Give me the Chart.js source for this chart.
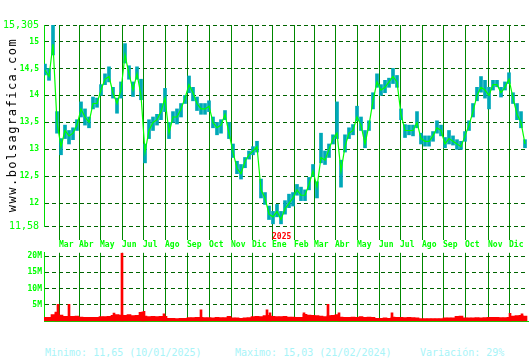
<!DOCTYPE html>
<html>
<head>
<meta charset="utf-8">
<script src="https://cdn.jsdelivr.net/npm/chart.js@4.4.1/dist/chart.umd.min.js"></script>
<style>
  body { margin: 0; background: #fff; }
  #wrap { position: relative; width: 530px; height: 360px; overflow: hidden; font-family: "DejaVu Sans Mono", monospace; }
  canvas { position: absolute; left: 0; }
  #priceChart { top: 0; }
  #volChart { top: 246px; }
  .site { position: absolute; left: -78px; top: 119px; width: 180px; height: 12px; line-height: 12px; font-size: 12px;
          letter-spacing: 1.5px; text-align: center; color: #000; transform: rotate(-90deg); white-space: nowrap; }
  .info { position: absolute; top: 348px; font-size: 10px; line-height: 10px; color: #a8f4f8; white-space: nowrap; }
</style>
</head>
<body>
<div id="wrap">
  <canvas id="priceChart" width="530" height="250"></canvas>
  <canvas id="volChart" width="530" height="82"></canvas>
  <div class="site">www.bolsagrafica.com</div>
  <span class="info" style="left:45px">Minimo: 11,65 (10/01/2025)</span>
  <span class="info" style="left:235px">Maximo: 15,03 (21/02/2024)</span>
  <span class="info" style="left:420px">Variación: 29%</span>
</div>
<script>
// ejes
const priceTicks = [11.58, 12, 12.5, 13, 13.5, 14, 14.5, 15, 15.305];
const volumeTicks = [5e6, 10e6, 15e6, 20e6];
const monthDays = [15, 35, 56, 78, 99, 121, 143, 165, 187, 208, 228, 250, 270, 291, 313, 335, 356, 378, 399, 421, 444, 465];
const monthLabels = ['Mar', 'Abr', 'May', 'Jun', 'Jul', 'Ago', 'Sep', 'Oct', 'Nov', 'Dic',
                     'Ene', 'Feb', 'Mar', 'Abr', 'May', 'Jun', 'Jul', 'Ago', 'Sep', 'Oct', 'Nov', 'Dic'];
const yearDays = [228];
const yearLabels = ['2025'];

// sesiones (una muestra cada 4 sesiones)
const firstDay = 1;
const dayStep = 4;

const closes = [
  14.47, 14.35, 14.95, 13.5, 13.05, 13.35, 13.25, 13.3, 13.45, 13.75,
  13.6, 13.5, 13.85, 13.85, 14.1, 14.3, 14.35, 14.05, 13.85, 14.1,
  14.75, 14.4, 14.1, 14.4, 14.0, 12.95, 13.35, 13.5, 13.55, 13.7,
  13.95, 13.3, 13.6, 13.6, 13.75, 13.95, 14.2, 14.05, 13.85, 13.75,
  13.75, 13.8, 13.5, 13.4, 13.45, 13.65, 13.3, 12.95, 12.65, 12.55,
  12.78, 12.9, 12.97, 13.05, 12.25, 12.1, 11.8, 11.75, 11.85, 11.7,
  11.9, 12.0, 12.1, 12.25, 12.15, 12.15, 12.35, 12.6, 12.3, 12.85,
  12.8, 13.0, 13.2, 13.3, 12.6, 13.05, 13.3, 13.35, 13.6, 13.45,
  13.1, 13.45, 13.9, 14.25, 14.1, 14.15, 14.25, 14.35, 14.25, 13.65,
  13.35, 13.35, 13.35, 13.5, 13.2, 13.15, 13.15, 13.25, 13.4, 13.35,
  13.1, 13.2, 13.15, 13.1, 13.05, 13.25, 13.45, 13.7, 14.0, 14.15,
  14.1, 14.0, 14.2, 14.2, 14.05, 14.15, 14.3, 13.95, 13.65, 13.5,
  13.1
];
const highs = [
  14.58, 14.5, 15.3, 13.7, 13.2, 13.45, 13.35, 13.4, 13.55, 13.88,
  13.75, 13.6, 13.97, 13.95, 14.2, 14.4, 14.53, 14.15, 13.95, 14.25,
  14.96, 14.55, 14.25, 14.53, 14.3, 13.1, 13.55, 13.6, 13.65, 13.85,
  14.13, 13.5, 13.7, 13.75, 13.85, 14.0, 14.36, 14.15, 13.97, 13.85,
  13.85, 13.9, 13.6, 13.5, 13.55, 13.72, 13.5, 13.1, 12.78, 12.72,
  12.85, 12.97, 13.05, 13.15, 12.45, 12.2, 11.95, 11.85, 11.98, 11.85,
  12.05, 12.17, 12.2, 12.35, 12.3, 12.25, 12.48, 12.72, 12.4, 13.3,
  12.97, 13.1, 13.27, 13.88, 12.8, 13.27, 13.4, 13.46, 13.8, 13.6,
  13.35, 13.53, 14.05, 14.4, 14.2, 14.28, 14.32, 14.5, 14.37, 13.75,
  13.46, 13.45, 13.45, 13.7, 13.3, 13.25, 13.25, 13.33, 13.53, 13.45,
  13.22, 13.35, 13.25, 13.18, 13.15, 13.33, 13.53, 13.85, 14.15, 14.35,
  14.28, 14.15, 14.28, 14.28, 14.15, 14.25, 14.42, 14.05, 13.85, 13.7,
  13.18
];
const lows = [
  14.38, 14.28, 14.75, 13.3, 12.9, 13.2, 13.1, 13.18, 13.35, 13.6,
  13.45, 13.4, 13.75, 13.78, 14.0, 14.2, 14.25, 13.95, 13.67, 13.95,
  14.6, 14.3, 13.98, 14.3, 13.92, 12.75, 13.2, 13.35, 13.45, 13.55,
  13.7, 13.2, 13.5, 13.47, 13.6, 13.85, 14.05, 13.9, 13.72, 13.65,
  13.65, 13.7, 13.4, 13.27, 13.3, 13.55, 13.2, 12.85, 12.55, 12.45,
  12.66, 12.82, 12.9, 12.95, 12.1, 11.98, 11.7, 11.62, 11.75, 11.62,
  11.8, 11.92, 11.95, 12.15, 12.05, 12.05, 12.25, 12.5, 12.1, 12.75,
  12.72, 12.85, 13.1, 13.2, 12.3, 12.95, 13.2, 13.27, 13.53, 13.35,
  13.03, 13.35, 13.75, 14.15, 14.0, 14.05, 14.15, 14.22, 14.15, 13.55,
  13.22, 13.27, 13.25, 13.4, 13.1, 13.06, 13.06, 13.15, 13.3, 13.25,
  13.03, 13.1, 13.08, 13.0, 13.0, 13.15, 13.35, 13.6, 13.9, 14.06,
  13.95, 13.75, 14.1, 14.16, 13.97, 14.1, 14.22, 13.85, 13.55, 13.4,
  13.03
];
// volumen en millones
const volumes = [
  1.2, 1.2, 2.0, 2.6, 1.9, 1.5, 1.5, 1.5, 1.6, 1.3,
  1.2, 1.2, 1.2, 1.2, 1.4, 1.4, 1.5, 1.8, 2.0, 1.9,
  1.8, 2.0, 1.7, 1.8, 2.7, 1.6, 1.4, 1.5, 1.4, 1.5,
  1.5, 0.9, 0.9, 0.8, 0.9, 0.9, 1.1, 1.1, 1.2, 1.2,
  1.1, 1.1, 1.0, 1.2, 1.1, 1.1, 1.5, 1.0, 1.0, 0.9,
  1.0, 1.1, 1.4, 1.5, 1.4, 1.7, 1.8, 1.5, 1.4, 1.4,
  1.5, 1.3, 1.3, 1.2, 1.2, 2.1, 1.9, 1.8, 1.7, 1.6,
  1.4, 1.7, 1.8, 2.0, 1.3, 1.2, 1.2, 1.3, 1.2, 1.4,
  1.2, 1.3, 1.2, 0.9, 0.9, 1.0, 0.9, 1.3, 1.2, 1.2,
  1.1, 1.2, 1.1, 1.0, 0.8, 0.8, 0.8, 0.8, 0.8, 0.8,
  1.0, 1.0, 1.0, 1.5, 1.6, 1.0, 1.0, 1.0, 1.1, 1.0,
  1.1, 1.2, 1.2, 1.2, 1.1, 1.1, 1.2, 1.6, 1.7, 1.8,
  1.6
];
const spikeDays = [12, 14, 25, 70, 78, 98, 100, 120, 157, 223, 226, 260, 284, 295, 348, 466, 478];
const spikeVolumes = [2.8, 5.2, 5.2, 2.5, 21, 2.8, 3.0, 2.3, 3.5, 3.5, 2.6, 2.6, 5.2, 2.6, 2.6, 2.4, 2.3];

const xMin = 0;
const xMax = 484;
const days = closes.map((_, i) => firstDay + i * dayStep);

Chart.defaults.font.family = '"DejaVu Sans Mono", monospace';

const textGreen = '#00ff00';
const axisGreen = '#00dd00';
const monthGreen = '#008800';
const dashGreen = '#006400';

// etiqueta del año sobre el primer mes, usando la escala x
const yearLabelPlugin = {
    id: 'yearLabel',
    afterDraw(chart) {
        const ctx = chart.ctx;
        const xs = chart.scales.x;
        ctx.save();
        ctx.font = 'bold 8px "DejaVu Sans Mono", monospace';
        ctx.fillStyle = '#ff0000';
        ctx.textAlign = 'left';
        ctx.textBaseline = 'middle';
        yearDays.forEach((d, i) => {
            ctx.fillText(yearLabels[i], xs.getPixelForValue(d), xs.top + 11);
        });
        ctx.restore();
    }
};

function monthAxis(showLabels) {
    return {
        type: 'linear',
        position: 'bottom',
        min: xMin,
        max: xMax,
        offset: false,
        afterBuildTicks: (scale) => { scale.ticks = monthDays.map(v => ({ value: v })); },
        afterFit: (scale) => { scale.height = showLabels ? 24 : 0; },
        grid: { color: monthGreen, lineWidth: 1, offset: false, drawTicks: showLabels, tickLength: 14 },
        border: { display: !showLabels, color: axisGreen, width: 1 },
        ticks: {
            display: showLabels,
            autoSkip: false,
            maxRotation: 0,
            align: 'start',
            padding: 0,
            color: textGreen,
            font: { size: 8, weight: 'bold' },
            callback: (v, i) => monthLabels[i]
        }
    };
}

// grafico de cotizacion
new Chart(document.getElementById('priceChart').getContext('2d'), {
    type: 'bar',
    data: {
        datasets: [{
            type: 'line',
            data: days.map((d, i) => ({ x: d, y: closes[i] })),
            borderColor: '#00ff00',
            borderWidth: 1.2,
            pointRadius: 0,
            tension: 0,
            order: 0
        }, {
            type: 'bar',
            data: days.map((d, i) => ({ x: d, y: [lows[i], highs[i]] })),
            backgroundColor: '#00a8b8',
            barThickness: 3,
            grouped: false,
            order: 1
        }]
    },
    options: {
        responsive: false,
        animation: false,
        events: [],
        layout: { padding: { top: 25, right: 2, bottom: 0, left: 0 } },
        plugins: { legend: { display: false }, tooltip: { enabled: false } },
        scales: {
            x: monthAxis(true),
            y: {
                min: priceTicks[0],
                max: priceTicks[priceTicks.length - 1],
                afterBuildTicks: (scale) => { scale.ticks = priceTicks.map(v => ({ value: v })); },
                afterFit: (scale) => { scale.width = 44; },
                grid: { color: dashGreen, lineWidth: 1, drawTicks: false },
                border: { display: true, color: axisGreen, width: 1, dash: [4, 3] },
                ticks: {
                    padding: 5,
                    color: textGreen,
                    font: function (ctx) {
                        const v = ctx.tick ? ctx.tick.value : 0;
                        if (v === priceTicks[0] || v === priceTicks[priceTicks.length - 1]) {
                            return { size: 10, weight: 'normal' };
                        }
                        return { size: 8, weight: 'bold' };
                    },
                    callback: (v) => String(v).replace('.', ',')
                }
            }
        }
    },
    plugins: [yearLabelPlugin]
});

// grafico de volumen
new Chart(document.getElementById('volChart').getContext('2d'), {
    type: 'bar',
    data: {
        datasets: [{
            data: spikeDays.map((d, i) => ({ x: d, y: spikeVolumes[i] * 1e6 })),
            backgroundColor: '#ff0000',
            barThickness: 2,
            grouped: false
        }, {
            data: days.map((d, i) => ({ x: d, y: volumes[i] * 1e6 })),
            backgroundColor: '#ff0000',
            barThickness: 4,
            grouped: false
        }]
    },
    options: {
        responsive: false,
        animation: false,
        events: [],
        layout: { padding: { top: 5, right: 2, bottom: 2, left: 0 } },
        plugins: { legend: { display: false }, tooltip: { enabled: false } },
        scales: {
            x: monthAxis(false),
            y: {
                min: 0,
                max: 21e6,
                afterBuildTicks: (scale) => { scale.ticks = volumeTicks.map(v => ({ value: v })); },
                afterFit: (scale) => { scale.width = 44; },
                grid: { color: dashGreen, lineWidth: 1, drawTicks: false },
                border: { display: true, color: axisGreen, width: 1, dash: [4, 3] },
                ticks: {
                    padding: 2,
                    color: textGreen,
                    font: { size: 8, weight: 'bold' },
                    callback: (v) => (v / 1e6) + 'M'
                }
            }
        }
    }
});
</script>
</body>
</html>
